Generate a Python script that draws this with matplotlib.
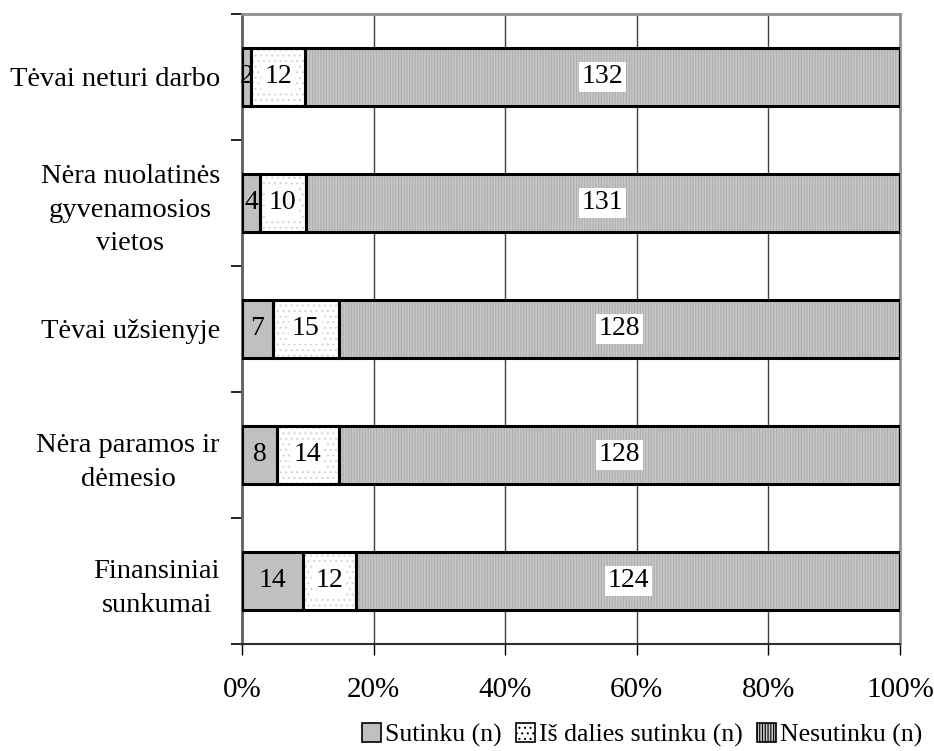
import matplotlib.pyplot as plt
import numpy as np
from matplotlib.patches import Patch

plt.rcParams['font.family'] = ['Liberation Serif', 'DejaVu Serif']
plt.rcParams['hatch.linewidth'] = 0.8

categories = ['Tėvai neturi darbo', 'Nėra nuolatinės\ngyvenamosios\nvietos',
              'Tėvai užsienyje', 'Nėra paramos ir\ndėmesio', 'Finansiniai\nsunkumai']
sutinku = [2, 4, 7, 8, 14]
is_dalies = [12, 10, 15, 14, 12]
nesutinku = [132, 131, 128, 128, 124]
series_names = ['Sutinku (n)', 'Iš dalies sutinku (n)', 'Nesutinku (n)']
xtick_labels = ['0%', '20%', '40%', '60%', '80%', '100%']

counts = np.array([sutinku, is_dalies, nesutinku], dtype=float)
totals = counts.sum(axis=0)
shares = counts / totals * 100

fig = plt.figure(figsize=(9.34, 7.51), dpi=100)
ax = fig.add_axes([0.2591, 0.1425, 0.7045, 0.8389])

y = np.arange(len(categories))
h = 0.46
styles = [
    dict(color='#c0c0c0', hatch=None, hcol='#c0c0c0'),
    dict(color='white', hatch='...', hcol='#d4d4d4'),
    dict(color='#c8c8c8', hatch='||||||', hcol='#acacac'),
]

left = np.zeros(len(categories))
for i in range(3):
    st = styles[i]
    ax.barh(y, shares[i], left=left, height=h, color=st['color'], hatch=st['hatch'],
            edgecolor=st['hcol'], linewidth=0, zorder=2)
    ax.barh(y, shares[i], left=left, height=h, fill=False, edgecolor='black',
            linewidth=2.2, zorder=3)
    for j in range(len(categories)):
        cx = left[j] + shares[i][j] / 2
        bbox = None
        if i > 0:
            bbox = dict(boxstyle='square,pad=0.1', facecolor='white', edgecolor='none')
        ax.text(cx, y[j], str(int(counts[i][j])), ha='center', va='center',
                fontsize=20, bbox=bbox, zorder=4)
    left += shares[i]

ax.set_xlim(0, 100)
ax.set_ylim(len(categories) - 0.5, -0.5)
ax.set_xticks(np.arange(0, 101, 20))
ax.set_xticklabels(xtick_labels, fontsize=21)
ax.tick_params(axis='x', direction='out', length=8, width=1, pad=16)
ax.xaxis.grid(True, color='#404040', linewidth=1, zorder=0)
ax.set_axisbelow(True)

ax.set_yticks(y)
ax.set_yticklabels(categories, fontsize=20.5, ha='right', multialignment='center',
                   linespacing=1.45)
ax.tick_params(axis='y', which='major', length=0, pad=16)
ax.set_yticks(np.arange(-0.5, len(categories)), minor=True)
ax.tick_params(axis='y', which='minor', direction='out', length=8, width=1.2)

for s in ['top', 'right']:
    ax.spines[s].set_color('#909090')
    ax.spines[s].set_linewidth(2)
ax.spines['left'].set_color('#606060')
ax.spines['left'].set_linewidth(2)
ax.spines['bottom'].set_color('#303030')
ax.spines['bottom'].set_linewidth(1.5)

handles = [Patch(facecolor=styles[i]['color'], hatch=styles[i]['hatch'],
                 edgecolor='black', linewidth=1.2) for i in range(3)]
fig.legend(handles, series_names, loc='lower right', bbox_to_anchor=(1.012, -0.025),
           ncol=3, frameon=False, fontsize=18.5, handlelength=0.75, handleheight=0.75,
           handletextpad=0.15, columnspacing=0.55)

fig.savefig('out.png', dpi=100)
